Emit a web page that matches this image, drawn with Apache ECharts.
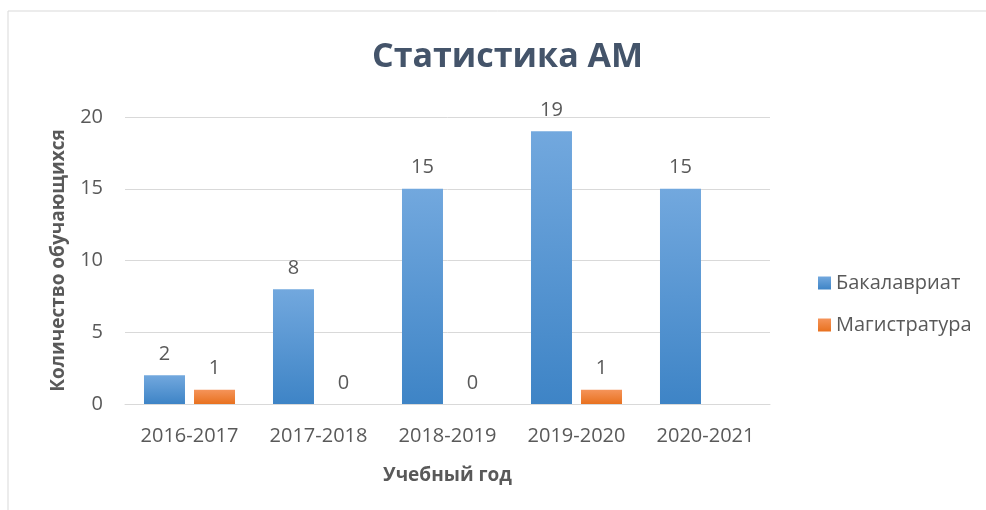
<!DOCTYPE html>
<html><head><meta charset="utf-8">
<script src="https://cdn.jsdelivr.net/npm/echarts@6/dist/echarts.min.js"></script>
<style>html,body{margin:0;padding:0;background:#fff}#c{width:986px;height:510px}</style>
</head><body><div id="c"></div>
<script>
const categories = ['2016-2017','2017-2018','2018-2019','2019-2020','2020-2021'];
const bachelor = [2, 8, 15, 19, 15];
const master = [1, 0, 0, 1, null];
const yTicks = {min: 0, max: 20, interval: 5};

const chart = echarts.init(document.getElementById('c'));
const txt = '#595959';
const font = 'Open Sans, Noto Sans, sans-serif';
chart.setOption({
  backgroundColor: '#fff',
  animation: false,
  title: {text: 'Статистика АМ', left: 367, top: 35,
    textStyle: {fontFamily: font, fontSize: 34, fontWeight: 'bold', color: '#44546A'}},
  graphic: [{type: 'rect', shape: {x: 8, y: 11, width: 1000, height: 520},
    style: {fill: 'none', stroke: '#d9d9d9', lineWidth: 1}}],
  legend: {orient: 'vertical', left: 813, top: 268, itemGap: 22, itemWidth: 13, itemHeight: 13,
    icon: 'rect', textStyle: {fontFamily: font, fontSize: 20, color: txt}},
  grid: {left: 125, right: 216, top: 117, bottom: 106},
  xAxis: {type: 'category', data: categories,
    axisLine: {lineStyle: {color: '#d9d9d9', width: 1}}, axisTick: {show: false},
    axisLabel: {fontFamily: font, fontSize: 20, color: txt, margin: 22},
    name: 'Учебный год', nameLocation: 'middle', nameGap: 62,
    nameTextStyle: {fontFamily: font, fontSize: 19, fontWeight: 'bold', color: txt}},
  yAxis: {type: 'value', min: yTicks.min, max: yTicks.max, interval: yTicks.interval,
    splitLine: {lineStyle: {color: '#d9d9d9'}}, axisLine: {show: false}, axisTick: {show: false},
    axisLabel: {fontFamily: font, fontSize: 20, color: txt, margin: 22},
    name: 'Количество обучающихся', nameLocation: 'middle', nameGap: 57,
    nameTextStyle: {fontFamily: font, fontSize: 19, fontWeight: 'bold', color: txt}},
  series: [
    {name: 'Бакалавриат', type: 'bar', data: bachelor, barWidth: 41, barGap: '22%',
      itemStyle: {color: new echarts.graphic.LinearGradient(0,0,0,1,[{offset:0,color:'#72a8de'},{offset:1,color:'#3e84c6'}])},
      label: {show: true, position: 'top', distance: 11, fontFamily: font, fontSize: 20, color: txt}},
    {name: 'Магистратура', type: 'bar', data: master, barWidth: 41,
      itemStyle: {color: new echarts.graphic.LinearGradient(0,0,0,1,[{offset:0,color:'#f5945a'},{offset:1,color:'#e8711f'}])},
      label: {show: true, position: 'top', distance: 11, fontFamily: font, fontSize: 20, color: txt}}
  ]
});
</script></body></html>
